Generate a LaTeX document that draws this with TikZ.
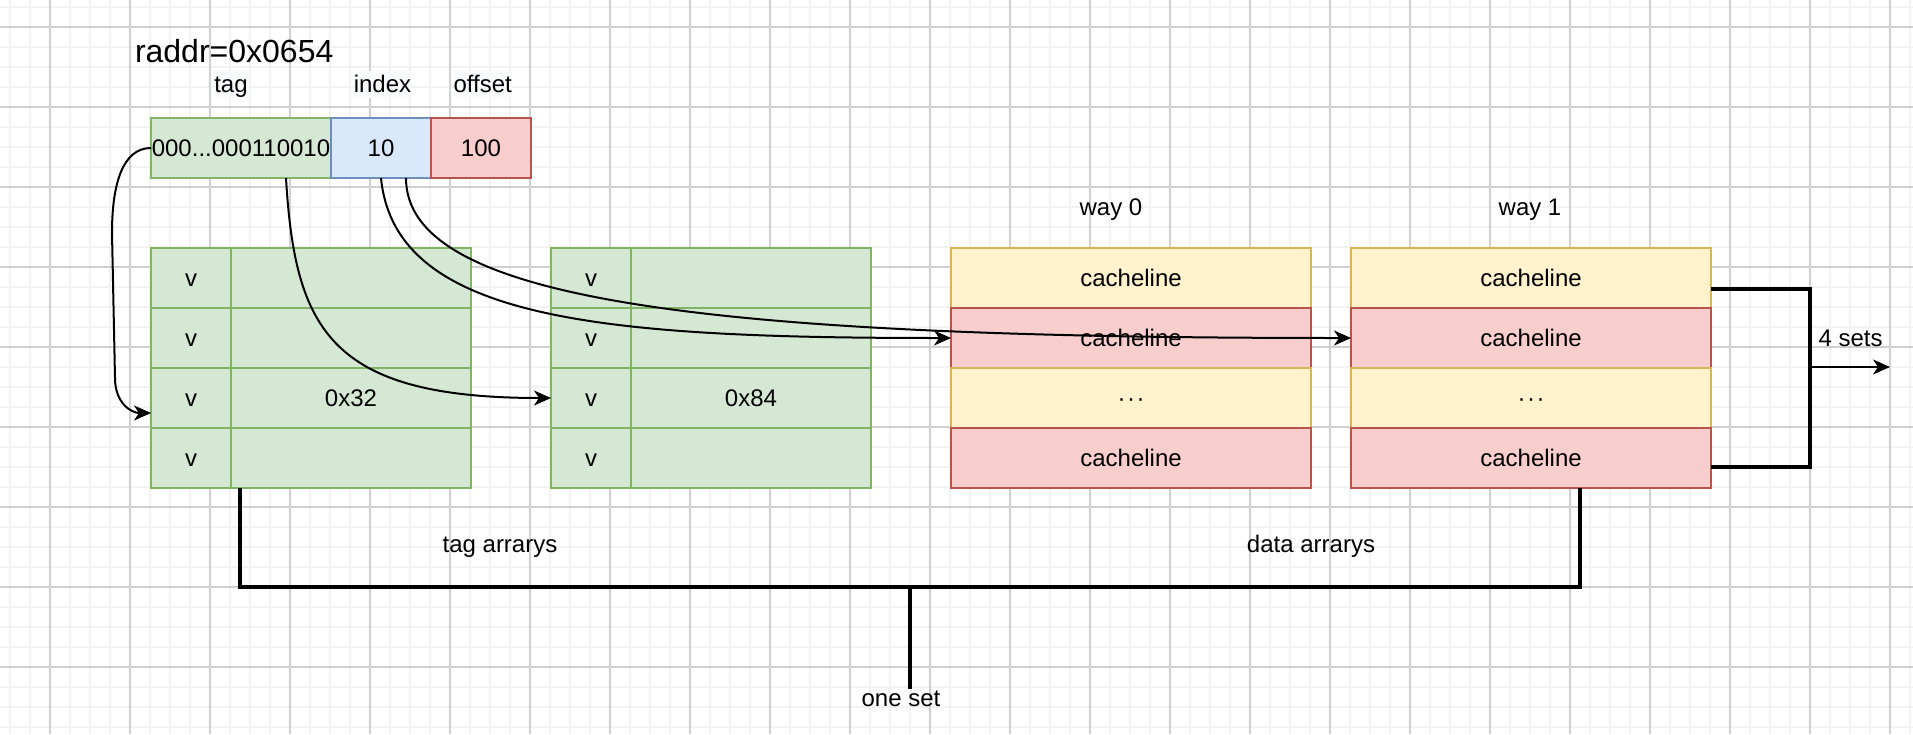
\documentclass[tikz,border=0pt]{standalone}
\usepackage{fontspec}
\setmainfont{Liberation Sans}
\usetikzlibrary{arrows.meta,calc}
\definecolor{gfill}{HTML}{D5E8D4}
\definecolor{gline}{HTML}{82B366}
\definecolor{bfill}{HTML}{DAE8FC}
\definecolor{bline}{HTML}{6C8EBF}
\definecolor{rfill}{HTML}{F8CECC}
\definecolor{rline}{HTML}{B85450}
\definecolor{yfill}{HTML}{FFF2CC}
\definecolor{yline}{HTML}{D6B656}
\definecolor{gridminor}{HTML}{F2F2F2}
\definecolor{gridmajor}{HTML}{D0D0D0}
\definecolor{labelbg}{HTML}{F8F9FA}
\begin{document}
\begin{tikzpicture}[x=1pt,y=-1pt,
  font=\fontsize{24pt}{28pt}\selectfont,
  every node/.style={inner sep=0pt,outer sep=0pt,text height=17.2pt,text depth=0pt},
  cellbox/.style={draw,line width=1.6pt,minimum height=60pt,anchor=center},
  gcell/.style={cellbox,fill=gfill,draw=gline},
  bcell/.style={cellbox,fill=bfill,draw=bline},
  rcell/.style={cellbox,fill=rfill,draw=rline},
  ycell/.style={cellbox,fill=yfill,draw=yline},
  lblbg/.style={anchor=base,fill=labelbg,text height=21pt,text depth=6pt},
  conn/.style={line width=2pt,-{Stealth[length=17pt,width=15pt,inset=5pt]}},
  brk/.style={line width=4pt},
  gminor/.style={draw=gridminor,line width=1.5pt},
  gmajor/.style={draw=gridmajor,line width=1.1pt}
]
\useasboundingbox (0,0) rectangle (1913,734);
\fill[white] (0,0) rectangle (1913,734);
% grid
\foreach \gx in {10,30,...,1910} \draw[gminor] (\gx,0) -- (\gx,734);
\foreach \gy in {7,27,...,727} \draw[gminor] (0,\gy) -- (1913,\gy);
\foreach \gx in {50,130,...,1890} \draw[gmajor] (\gx,0) -- (\gx,734);
\foreach \gy in {27,107,...,667} \draw[gmajor] (0,\gy) -- (1913,\gy);

% address
\node[anchor=base west,font=\fontsize{32pt}{38pt}\selectfont] (raddr) at (135,62) {raddr=0x0654};
\node[lblbg] (ltag) at (231,92) {tag};
\node[lblbg] (lidx) at (382.5,92) {index};
\node[lblbg] (loff) at (482.7,92) {offset};
\node[gcell,minimum width=180pt] (tag) at (241,148) {000...000110010};
\node[bcell,minimum width=100pt] (idx) at (381,148) {10};
\node[rcell,minimum width=100pt] (off) at (481,148) {100};

% tag arrays
\foreach \i/\cy/\txt in {1/278/,2/338/,3/398/0x32,4/458/}{
  \node[gcell,minimum width=80pt] (ta1v\i) at (191,\cy) {v};
  \node[gcell,minimum width=240pt] (ta1d\i) at (351,\cy) {\txt};
}
\foreach \i/\cy/\txt in {1/278/,2/338/,3/398/0x84,4/458/}{
  \node[gcell,minimum width=80pt] (ta2v\i) at (591,\cy) {v};
  \node[gcell,minimum width=240pt] (ta2d\i) at (751,\cy) {\txt};
}

% data arrays
\node (lway0) at (1111,206.4) {way 0};
\node (lway1) at (1530,206.4) {way 1};
\node[ycell,minimum width=360pt] (w0r1) at (1131,278) {cacheline};
\node[rcell,minimum width=360pt] (w0r2) at (1131,338) {cacheline};
\node[ycell,minimum width=360pt] (w0r3) at (1131,398) {\textperiodcentered\kern1.5pt\textperiodcentered\kern1.5pt\textperiodcentered};
\node[rcell,minimum width=360pt] (w0r4) at (1131,458) {cacheline};
\node[ycell,minimum width=360pt] (w1r1) at (1531,278) {cacheline};
\node[rcell,minimum width=360pt] (w1r2) at (1531,338) {cacheline};
\node[ycell,minimum width=360pt] (w1r3) at (1531,398) {\textperiodcentered\kern1.5pt\textperiodcentered\kern1.5pt\textperiodcentered};
\node[rcell,minimum width=360pt] (w1r4) at (1531,458) {cacheline};

% labels
\node (ltagarr) at (500,543.4) {tag arrarys};
\node (ldataarr) at (1311,543.4) {data arrarys};
\node (oneset) at (901,697.4) {one set};
\node (sets) at (1850.5,337.4) {4 sets};

% connectors
\draw[conn] (tag.west) .. controls +(-28,0) and +(0,-50) .. ($(tag.west)+(-39,85)$)
  -- ($(tag.west)+(-36,230)$) .. controls +(0,25) and +(-20,0) .. ([yshift=-15pt]ta1v3.west);
\draw[conn] ([xshift=45pt]tag.south) .. controls +(9,152) and +(-221,0) .. (ta2v3.west);
\draw[conn] (idx.south) .. controls +(14,142) and +(-351,0) .. (w0r2.west);
\draw[conn] ([xshift=25pt]idx.south) .. controls +(0,122) and +(-651,0) .. (w1r2.west);

% right bracket
\coordinate (brkmid) at (1810,367);
\coordinate (setsend) at (1890,367);
\draw[brk] ([yshift=-11pt]w1r1.east) -| (brkmid) |- ([yshift=-9pt]w1r4.east);
\draw[conn] (brkmid) -- (setsend);

% bottom bracket
\coordinate (setjoin) at (910,587);
\draw[brk] ([xshift=-111pt]ta1d4.south) |- (setjoin) -| ([xshift=49pt]w1r4.south);
\draw[brk] (setjoin) -- (setjoin |- oneset.north);
\end{tikzpicture}
\end{document}
